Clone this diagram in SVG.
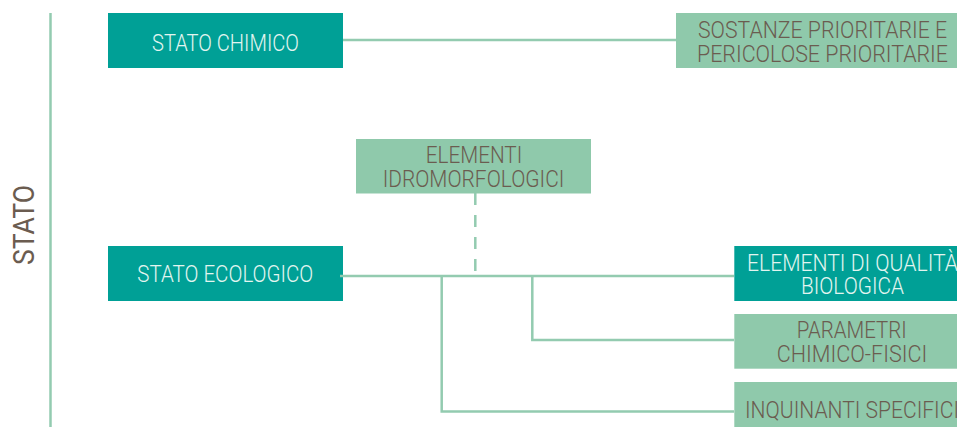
<svg xmlns="http://www.w3.org/2000/svg" width="957" height="427" viewBox="0 0 957 427">
<style>
.dark{fill:#00a096}
.light{fill:#8fc9ab}
.tw{fill:#e2f5f0;font-family:Roboto,"Liberation Sans",sans-serif;font-weight:300;font-size:23px;text-anchor:middle}
.tb{fill:#6b5c50;font-family:Roboto,"Liberation Sans",sans-serif;font-weight:300;font-size:23px;text-anchor:middle}
.ln{stroke:#93cbb0;stroke-width:2.5;fill:none}
</style>
<rect width="957" height="427" fill="#ffffff"/>
<g id="axis">
<line class="ln" x1="50.5" y1="13" x2="50.5" y2="427"/>
<text transform="translate(34,225) rotate(-90)" fill="#6b5c50" font-family="Roboto,'Liberation Sans',sans-serif" font-size="30" text-anchor="middle" textLength="80" lengthAdjust="spacingAndGlyphs">STATO</text>
</g>
<g id="connectors">
<line class="ln" x1="343" y1="40" x2="676" y2="40"/>
<line class="ln" x1="475.3" y1="193" x2="475.3" y2="276" stroke-dasharray="12 10"/>
<line class="ln" x1="340" y1="276" x2="734" y2="276"/>
<polyline class="ln" points="441.7,276 441.7,411.5 734,411.5"/>
<polyline class="ln" points="532.3,276 532.3,340 734,340"/>
</g>
<g id="stato-chimico">
<rect class="dark" x="108" y="13" width="235" height="55"/>
<text class="tw" x="225.5" y="50.5" textLength="147" lengthAdjust="spacingAndGlyphs">STATO CHIMICO</text>
</g>
<g id="sostanze">
<rect class="light" x="676" y="13" width="281" height="55"/>
<text class="tb" x="822.5" y="37.7" textLength="249" lengthAdjust="spacingAndGlyphs">SOSTANZE PRIORITARIE E</text>
<text class="tb" x="822.5" y="62.3" textLength="251" lengthAdjust="spacingAndGlyphs">PERICOLOSE PRIORITARIE</text>
</g>
<g id="idromorfologici">
<rect class="light" x="356" y="139" width="235" height="54.5"/>
<text class="tb" x="474" y="162.7" textLength="96.6" lengthAdjust="spacingAndGlyphs">ELEMENTI</text>
<text class="tb" x="473.5" y="187.3" textLength="181.6" lengthAdjust="spacingAndGlyphs">IDROMORFOLOGICI</text>
</g>
<g id="stato-ecologico">
<rect class="dark" x="108" y="246" width="235" height="55"/>
<line class="ln" x1="340" y1="276" x2="343" y2="276"/>
<text class="tw" x="225.3" y="282.3" textLength="176" lengthAdjust="spacingAndGlyphs">STATO ECOLOGICO</text>
</g>
<g id="qualita-biologica">
<rect class="dark" x="734.3" y="246" width="223" height="55"/>
<text class="tw" x="852.5" y="270.7" textLength="211" lengthAdjust="spacingAndGlyphs">ELEMENTI DI QUALITÀ</text>
<text class="tw" x="852.5" y="294.3" textLength="103" lengthAdjust="spacingAndGlyphs">BIOLOGICA</text>
</g>
<g id="parametri">
<rect class="light" x="734.3" y="314" width="223" height="54.7"/>
<text class="tb" x="851.7" y="338.3" textLength="110" lengthAdjust="spacingAndGlyphs">PARAMETRI</text>
<text class="tb" x="852" y="361.7" textLength="150.6" lengthAdjust="spacingAndGlyphs">CHIMICO-FISICI</text>
</g>
<g id="inquinanti">
<rect class="light" x="734.3" y="382" width="223" height="45"/>
<text class="tb" x="852" y="417.7" textLength="214" lengthAdjust="spacingAndGlyphs">INQUINANTI SPECIFICI</text>
</g>
</svg>
